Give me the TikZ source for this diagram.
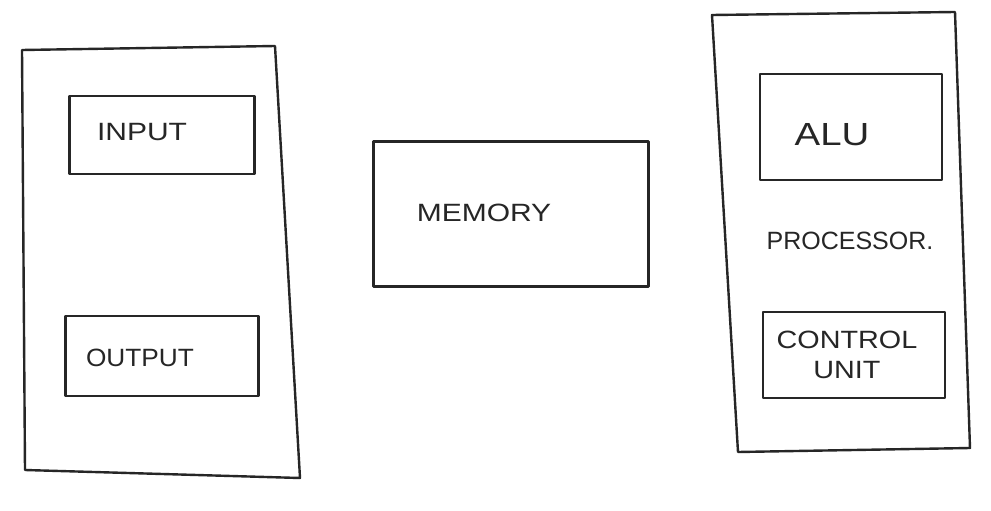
\documentclass[tikz,border=0pt]{standalone}
\usepackage{fontspec}
\setmainfont{Liberation Sans}
\begin{document}
\begin{tikzpicture}[x=1pt,y=-1pt,
  frame/.style={draw=black!85,line width=2.4pt,line join=round},
  box/.style={draw=black!85,line width=2.2pt,line join=round},
  lbl/.style={font=\fontsize{25}{30}\selectfont,text=black!85}]
\useasboundingbox[fill=white] (0,0) rectangle (991,511);
% left frame
\draw[frame] (22,50) -- (275,46) -- (300,478) -- (25,470) -- cycle;
\node[box,minimum width=185pt,minimum height=78pt] (input) at (162,135) {};
\node[lbl,xscale=1.2] at (142,132) {INPUT};
\node[box,minimum width=193pt,minimum height=80pt] (output) at (162,356) {};
\node[lbl,xscale=1.05] at (140,358) {OUTPUT};
% memory
\node[box,minimum width=275pt,minimum height=145pt] (memory) at (511,214) {};
\node[lbl,xscale=1.2] at (484,213) {MEMORY};
% right frame
\draw[frame] (712,15) -- (955,12) -- (970,448) -- (738,452) -- cycle;
\node[box,minimum width=182pt,minimum height=106pt] (alu) at (851,127) {};
\node[font=\fontsize{32}{36}\selectfont,text=black!85,xscale=1.2] at (832,135) {ALU};
\node[lbl,xscale=1.0] (proc) at (850,241) {PROCESSOR.};
\node[box,minimum width=182pt,minimum height=86pt] (cu) at (854,355) {};
\node[lbl,align=center,xscale=1.15] at (847,355) {CONTROL\\UNIT};
\end{tikzpicture}
\end{document}
